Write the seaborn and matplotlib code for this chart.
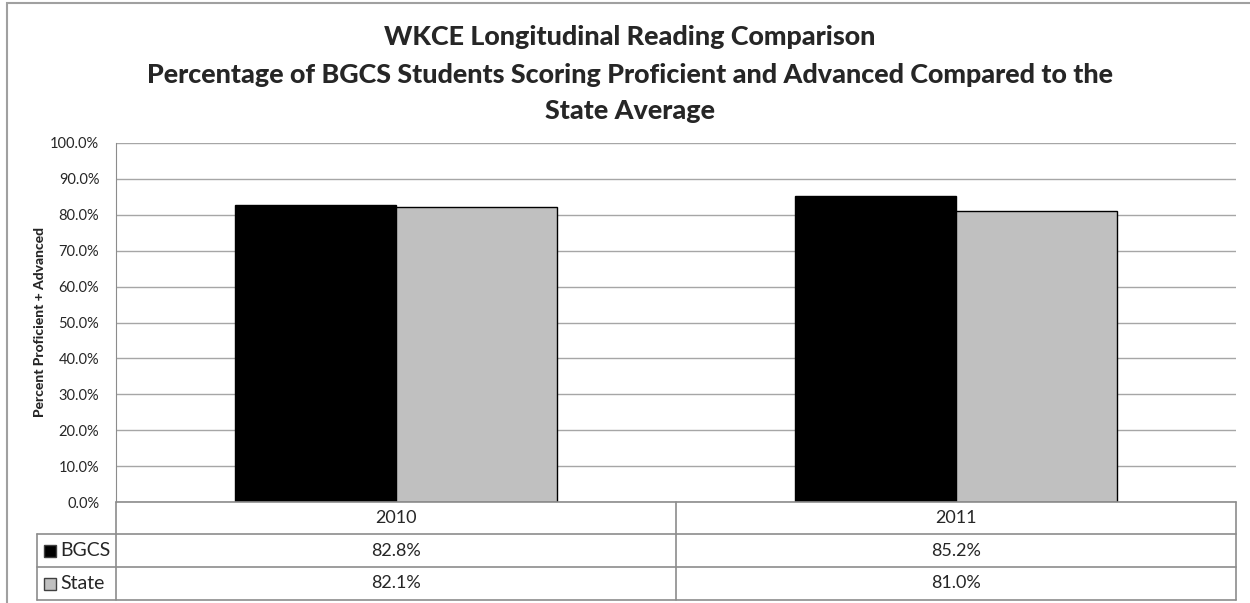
import pandas as pd
import matplotlib.pyplot as plt
import seaborn as sns
from matplotlib.patches import Rectangle
from matplotlib.lines import Line2D

# chart values
years = ['2010', '2011']
bgcs = [82.8, 85.2]
state = [82.1, 81.0]
series = ['BGCS', 'State']
colours = ['#000000', '#c0c0c0']
y_ticks = [0, 10, 20, 30, 40, 50, 60, 70, 80, 90, 100]

df = pd.DataFrame({
    'year': years * 2,
    'value': bgcs + state,
    'group': ['BGCS'] * len(years) + ['State'] * len(years),
})

sns.set_style('white')
plt.rcParams['font.family'] = ['Lato', 'DejaVu Sans']

W, H = 1250, 603
fig = plt.figure(figsize=(W / 100, H / 100), dpi=100)


def fx(px):
    return px / W


def fy(py):
    return 1 - py / H


left, right, top, bottom = 116, 1236, 143, 502
ax = fig.add_axes([fx(left), fy(bottom), fx(right - left), fy(top) - fy(bottom)])

sns.barplot(data=df, x='year', y='value', hue='group', palette=colours,
            edgecolor='black', linewidth=1, width=0.575, ax=ax, legend=False)

ax.set_xlim(-0.5, len(years) - 0.5)
ax.set_ylim(0, 100)
ax.set_yticks(y_ticks)
ax.set_yticklabels([f'{t:.1f}%' for t in y_ticks], fontsize=10.5)
ax.set_xticks([])
ax.set_xlabel('')
ax.set_ylabel('')
ax.yaxis.grid(True, color='#a6a6a6', linewidth=1)
ax.set_axisbelow(True)
for s in ['top', 'right', 'bottom']:
    ax.spines[s].set_visible(False)
ax.spines['left'].set_color('#8c8c8c')
ax.tick_params(axis='y', length=4, color='#8c8c8c', pad=8)

fig.text(fx(40), fy(322), 'Percent Proficient + Advanced', rotation=90,
         ha='center', va='center', fontsize=10, fontweight='black')

# title
title_kw = dict(ha='center', va='center', fontsize=19.4, fontweight='black')
fig.text(fx(630), fy(37), 'WKCE Longitudinal Reading Comparison', **title_kw)
fig.text(fx(630), fy(75), 'Percentage of BGCS Students Scoring Proficient and Advanced Compared to the', **title_kw)
fig.text(fx(630), fy(111), 'State Average', **title_kw)

# outer chart border
fig.add_artist(Rectangle((fx(7), fy(H + 5)), fx(W), fy(3) - fy(H + 5),
                         transform=fig.transFigure, fill=False,
                         edgecolor='#a0a0a0', linewidth=1.5))

# data table under the axis
line_c = '#8c8c8c'
rows = [502, 534, 567, 600]
mid = (left + right) / 2


def hline(x0, x1, y):
    fig.add_artist(Line2D([fx(x0), fx(x1)], [fy(y), fy(y)], transform=fig.transFigure,
                          color=line_c, linewidth=1.2))


def vline(x, y0, y1):
    fig.add_artist(Line2D([fx(x), fx(x)], [fy(y0), fy(y1)], transform=fig.transFigure,
                          color=line_c, linewidth=1.2))


hline(left, right, rows[0])
for r in rows[1:]:
    hline(37, right, r)
vline(left, rows[0], rows[3])
vline(mid, rows[0], rows[3])
vline(right, rows[0], rows[3])
vline(37, rows[1], rows[3])

centres = [(left + mid) / 2, (mid + right) / 2]
for i, yr in enumerate(years):
    fig.text(fx(centres[i]), fy((rows[0] + rows[1]) / 2), yr,
             ha='center', va='center', fontsize=13)
for j, vals in enumerate([bgcs, state]):
    yc = (rows[j + 1] + rows[j + 2]) / 2
    for i, v in enumerate(vals):
        fig.text(fx(centres[i]), fy(yc), f'{v:.1f}%',
                 ha='center', va='center', fontsize=13)
    fig.add_artist(Rectangle((fx(44), fy(yc + 6)), fx(12), fy(yc - 6) - fy(yc + 6),
                             transform=fig.transFigure, facecolor=colours[j],
                             edgecolor='#404040', linewidth=1))
    fig.text(fx(60), fy(yc), series[j], ha='left', va='center', fontsize=14)

plt.savefig('out.png', dpi=100)
